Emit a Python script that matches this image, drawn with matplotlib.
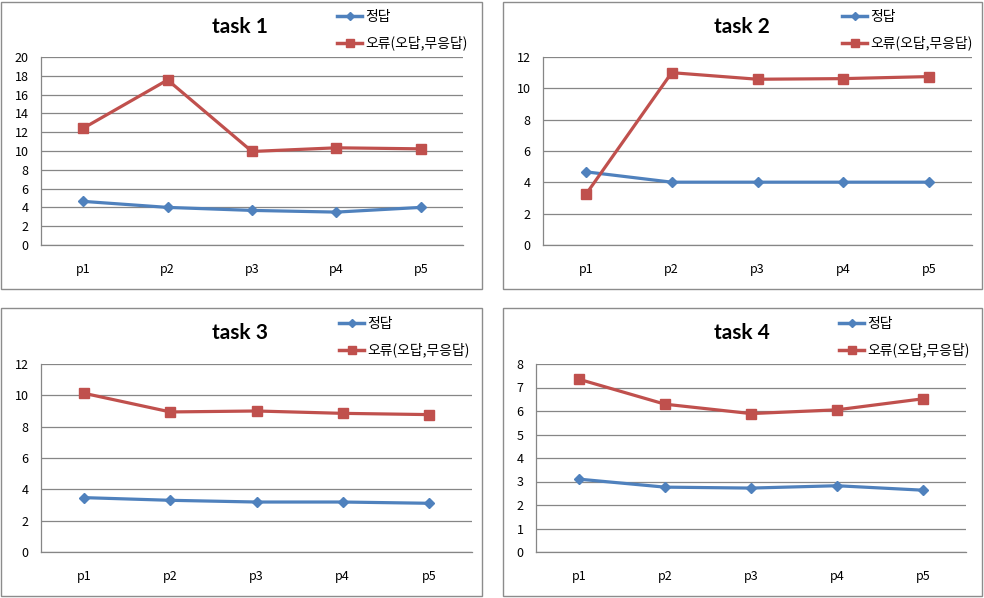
import matplotlib
matplotlib.use("Agg")
import matplotlib.pyplot as plt
from matplotlib.patches import Rectangle
from matplotlib.lines import Line2D

categories = ["p1", "p2", "p3", "p4", "p5"]
series_names = ["정답", "오류(오답,무응답)"]
titles = ["task 1", "task 2", "task 3", "task 4"]

task1_correct = [4.64, 4.0, 3.68, 3.5, 4.0]
task1_error = [12.42, 17.56, 9.95, 10.34, 10.23]
task2_correct = [4.67, 4.01, 4.01, 4.01, 4.01]
task2_error = [3.23, 11.0, 10.58, 10.62, 10.75]
task3_correct = [3.47, 3.30, 3.19, 3.19, 3.11]
task3_error = [10.13, 8.94, 9.0, 8.85, 8.77]
task4_correct = [3.10, 2.76, 2.72, 2.82, 2.63]
task4_error = [7.35, 6.29, 5.89, 6.05, 6.52]

y_max = [20, 12, 12, 8]
y_step = [2, 2, 2, 1]

correct_data = [task1_correct, task2_correct, task3_correct, task4_correct]
error_data = [task1_error, task2_error, task3_error, task4_error]

W, H = 984, 598
fig = plt.figure(figsize=(W / 100, H / 100), dpi=100)

BLUE = "#4F81BD"
RED = "#C0504D"
GRID = "#868686"
CJK = ["Noto Sans CJK KR", "DejaVu Sans"]

# pixel layouts: (border box), (plot area), title center, legend anchor
borders = [(1, 2, 482, 289), (503, 2, 982, 289), (1, 308, 482, 596), (503, 308, 982, 596)]
plots = [(41, 57, 463, 245), (543, 57, 972, 245), (41, 364, 472, 552), (536, 364, 966, 552)]
title_pos = [(240, 27), (742, 27), (240, 333), (742, 333)]
legend_pos = [(337, 10), (842, 10), (339, 317), (839, 317)]


def fx(px):
    return px / W


def fy(py):
    return 1 - py / H


for (x0, y0, x1, y1) in borders:
    fig.patches.append(Rectangle((fx(x0), fy(y1)), fx(x1) - fx(x0), fy(y0) - fy(y1),
                                 transform=fig.transFigure, fill=False,
                                 edgecolor="#8C8C8C", linewidth=1.0))

for i in range(4):
    x0, y0, x1, y1 = plots[i]
    ax = fig.add_axes([fx(x0), fy(y1), fx(x1) - fx(x0), fy(y0) - fy(y1)])
    xs = list(range(len(categories)))
    ax.plot(xs, correct_data[i], color=BLUE, linewidth=2.3, marker="D",
            markersize=5, markerfacecolor=BLUE, markeredgecolor=BLUE, zorder=3)
    ax.plot(xs, error_data[i], color=RED, linewidth=2.3, marker="s",
            markersize=7, markerfacecolor=RED, markeredgecolor=RED, zorder=3)
    ax.set_xlim(-0.5, len(categories) - 0.5)
    ax.set_ylim(0, y_max[i])
    ticks = list(range(0, y_max[i] + 1, y_step[i]))
    ax.set_yticks(ticks)
    ax.set_yticklabels([str(t) for t in ticks], family=CJK, fontsize=9)
    ax.set_xticks(xs)
    ax.set_xticklabels(categories, family=CJK, fontsize=9)
    ax.tick_params(axis="both", length=0, colors="black")
    ax.tick_params(axis="y", pad=9)
    ax.tick_params(axis="x", pad=13)
    ax.yaxis.grid(True, color=GRID, linewidth=0.9)
    ax.set_axisbelow(True)
    for s in ["top", "right"]:
        ax.spines[s].set_visible(False)
    for s in ["left", "bottom"]:
        ax.spines[s].set_color(GRID)
        ax.spines[s].set_linewidth(0.9)
    tx, ty = title_pos[i]
    fig.text(fx(tx), fy(ty), titles[i], ha="center", va="center",
             fontsize=15, fontweight="bold", family=["Lato", "DejaVu Sans"])
    handles = [Line2D([], [], color=BLUE, linewidth=2.5, marker="D", markersize=4),
               Line2D([], [], color=RED, linewidth=2.5, marker="s", markersize=5.5)]
    lx, ly = legend_pos[i]
    ax.legend(handles, series_names, loc="upper left",
              bbox_to_anchor=(fx(lx), fy(ly)), bbox_transform=fig.transFigure,
              frameon=False, borderpad=0, borderaxespad=0, handlelength=1.8,
              handletextpad=0.2, labelspacing=0.85,
              prop={"family": CJK, "size": 10})

fig.savefig("out.png", dpi=100, facecolor="white")
